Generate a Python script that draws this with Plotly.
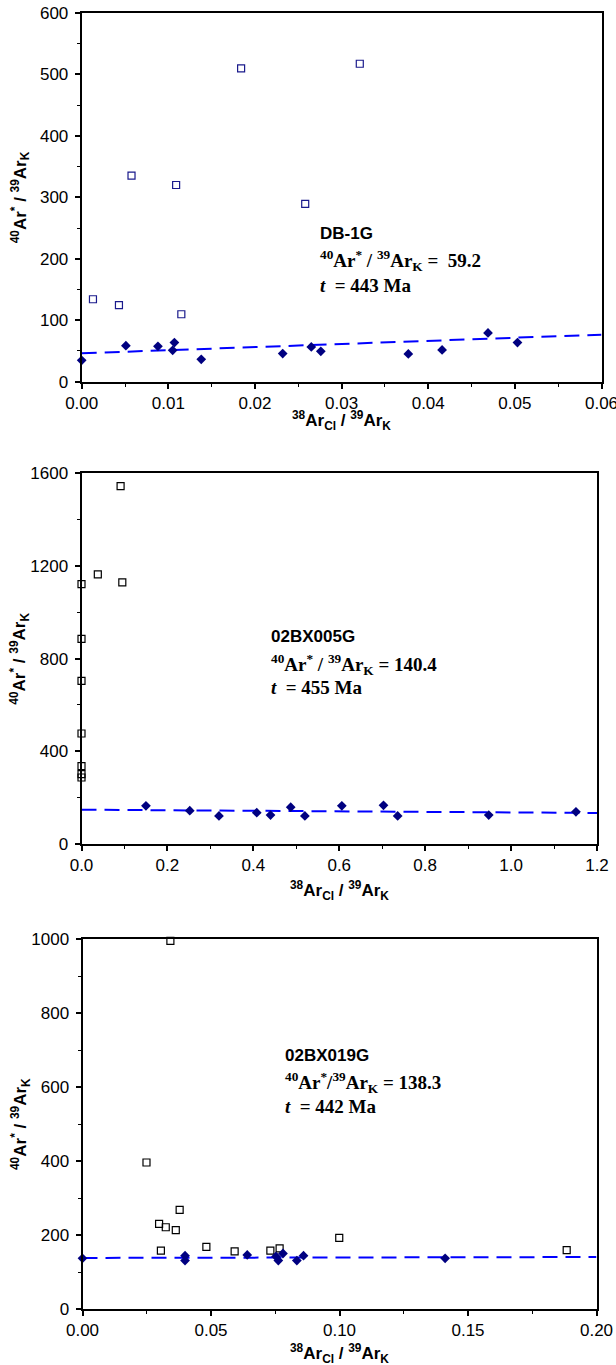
import plotly.graph_objects as go

W, H = 616, 1365

# ---------------- Data ----------------
# Panel 1: DB-1G
p1_fill_x = [0.0, 0.0051, 0.0088, 0.0107, 0.0105, 0.0138, 0.0232, 0.0265, 0.0276, 0.0377, 0.0416, 0.0469, 0.0503]
p1_fill_y = [34.8, 58.7, 57.6, 63.6, 51.1, 36.4, 45.7, 56.5, 49.5, 45.1, 51.6, 79.3, 63.6]
p1_open_x = [0.0013, 0.0043, 0.0115, 0.0258, 0.00575, 0.0109, 0.0184, 0.0321]
p1_open_y = [134.2, 124.5, 109.8, 289.5, 335.4, 320.1, 509.8, 517.4]
p1_fit_x = [0.0, 0.06]
p1_fit_y = [46.2, 76.6]
p1_xticks = [0.0, 0.01, 0.02, 0.03, 0.04, 0.05, 0.06]
p1_xticklabels = ["0.00", "0.01", "0.02", "0.03", "0.04", "0.05", "0.06"]
p1_yticks = [0, 100, 200, 300, 400, 500, 600]

# Panel 2: 02BX005G
p2_fill_x = [0.150, 0.252, 0.320, 0.408, 0.440, 0.487, 0.520, 0.606, 0.703, 0.736, 0.948, 1.151]
p2_fill_y = [165, 144, 121, 135, 125, 159, 121, 165, 167, 121, 125, 139]
p2_open_x = [0.0, 0.0, 0.0, 0.0, 0.0, 0.0, 0.0, 0.038, 0.091, 0.095]
p2_open_y = [704, 477, 336, 302, 287, 1122, 885, 1164, 1545, 1129]
p2_fit_x = [0.0, 1.2]
p2_fit_y = [148, 134]
p2_xticks = [0.0, 0.2, 0.4, 0.6, 0.8, 1.0, 1.2]
p2_xticklabels = ["0.0", "0.2", "0.4", "0.6", "0.8", "1.0", "1.2"]
p2_yticks = [0, 400, 800, 1200, 1600]

# Panel 3: 02BX019G
p3_fill_x = [0.0, 0.0399, 0.0399, 0.0641, 0.0753, 0.0762, 0.0780, 0.0834, 0.0860, 0.1411]
p3_fill_y = [137, 144, 131, 146, 142, 131, 150, 131, 144, 137]
p3_open_x = [0.0249, 0.0298, 0.0324, 0.0363, 0.0378, 0.0305, 0.0482, 0.0592, 0.0731, 0.0767, 0.0999, 0.1884, 0.0342]
p3_open_y = [396, 230, 221, 213, 268, 158, 168, 156, 158, 164, 192, 159, 995]
p3_fit_x = [0.0, 0.2]
p3_fit_y = [138, 140.5]
p3_xticks = [0.0, 0.05, 0.10, 0.15, 0.20]
p3_xticklabels = ["0.00", "0.05", "0.10", "0.15", "0.20"]
p3_yticks = [0, 200, 400, 600, 800, 1000]

names = ["DB-1G", "02BX005G", "02BX019G"]
ratio_text = [
    "<sup>40</sup>Ar<sup>*</sup> / <sup>39</sup>Ar<sub>K</sub> =  59.2",
    "<sup>40</sup>Ar<sup>*</sup> / <sup>39</sup>Ar<sub>K</sub> = 140.4",
    "<sup>40</sup>Ar<sup>*</sup>/<sup>39</sup>Ar<sub>K</sub> = 138.3",
]
ages = ["443", "455", "442"]

x_ranges = [[0, 0.06], [0, 1.2], [0, 0.2]]
x_minor = [0.005, 0.1, 0.025]
y_ranges = [[0, 600], [0, 1600], [0, 1000]]
y_minor = [50, 200, 100]

# ---------------- Layout geometry (pixels) ----------------
panels_px = [
    dict(x0=81.7, x1=601.5, y0=13, y1=381.7),
    dict(x0=81.5, x1=597.0, y0=473.3, y1=844),
    dict(x0=82.5, x1=596.5, y0=939, y1=1309),
]
label_px = [
    dict(x=317.5, y=[233.5, 260, 285], xt=420),
    dict(x=268.8, y=[636, 664, 687], xt=890),
    dict(x=283.0, y=[1055, 1082, 1106], xt=1353),
]

fill_color = "#000080"
open_colors = ["#1a1a8c", "#000000", "#000000"]
fit_color = "#0000FF"

data = [
    (p1_fill_x, p1_fill_y, p1_open_x, p1_open_y, p1_fit_x, p1_fit_y, p1_xticks, p1_xticklabels, p1_yticks),
    (p2_fill_x, p2_fill_y, p2_open_x, p2_open_y, p2_fit_x, p2_fit_y, p2_xticks, p2_xticklabels, p2_yticks),
    (p3_fill_x, p3_fill_y, p3_open_x, p3_open_y, p3_fit_x, p3_fit_y, p3_xticks, p3_xticklabels, p3_yticks),
]

fig = go.Figure()
annotations = []

tick_font = dict(family="Liberation Sans, Arial", size=17, color="#000")
ytitle = "<b><sup>40</sup>Ar<sup>*</sup> / <sup>39</sup>Ar<sub>K</sub></b>"
xtitle = "<b><sup>38</sup>Ar<sub>Cl</sub> / <sup>39</sup>Ar<sub>K</sub></b>"

for i in range(3):
    fx, fy, ox, oy, lx, ly, xt, xtl, yt = data[i]
    xa = "x" if i == 0 else f"x{i+1}"
    ya = "y" if i == 0 else f"y{i+1}"
    fig.add_trace(go.Scatter(x=lx, y=ly, mode="lines", xaxis=xa, yaxis=ya,
                             line=dict(color=fit_color, width=2, dash="15px,8px"),
                             showlegend=False, hoverinfo="skip", cliponaxis=True))
    fig.add_trace(go.Scatter(x=ox, y=oy, mode="markers", xaxis=xa, yaxis=ya,
                             marker=dict(symbol="square-open", size=7, color=open_colors[i],
                                         line=dict(width=1.2, color=open_colors[i])),
                             showlegend=False, cliponaxis=False))
    fig.add_trace(go.Scatter(x=fx, y=fy, mode="markers", xaxis=xa, yaxis=ya,
                             marker=dict(symbol="diamond", size=7.5, color=fill_color,
                                         line=dict(width=0)),
                             showlegend=False, cliponaxis=False))

    p = panels_px[i]
    xdom = [p["x0"] / W, p["x1"] / W]
    ydom = [1 - p["y1"] / H, 1 - p["y0"] / H]
    xkey = "xaxis" if i == 0 else f"xaxis{i+1}"
    ykey = "yaxis" if i == 0 else f"yaxis{i+1}"
    fig.update_layout(**{
        xkey: dict(domain=xdom, anchor=ya, range=x_ranges[i],
                   tickmode="array", tickvals=xt, ticktext=xtl,
                   showgrid=False, zeroline=False,
                   showline=True, linecolor="#000", linewidth=2, mirror=True,
                   ticks="outside", ticklen=5, tickwidth=1.5, tickcolor="#000",
                   minor=dict(ticks="outside", ticklen=3, tickwidth=1.2, tickcolor="#000",
                              tick0=0, dtick=x_minor[i], showgrid=False),
                   ticklabeloverflow="allow",
                   tickfont=tick_font, automargin=False, fixedrange=True),
        ykey: dict(domain=ydom, anchor=xa, range=y_ranges[i],
                   tickmode="array", tickvals=yt, ticktext=[str(v) for v in yt],
                   showgrid=False, zeroline=False,
                   showline=True, linecolor="#000", linewidth=2, mirror=True,
                   ticks="outside", ticklen=5, tickwidth=1.5, tickcolor="#000",
                   minor=dict(ticks="outside", ticklen=3, tickwidth=1.2, tickcolor="#000",
                              tick0=0, dtick=y_minor[i], showgrid=False),
                   ticklabelstandoff=3, ticklabeloverflow="allow",
                   tickfont=tick_font, automargin=False, fixedrange=True),
    })

    lp = label_px[i]
    annotations.append(dict(x=lp["x"] / W, y=1 - lp["y"][0] / H, xref="paper", yref="paper",
                            text=f"<b>{names[i]}</b>", showarrow=False,
                            xanchor="left", yanchor="middle",
                            font=dict(family="Liberation Sans, Arial", size=17, color="#000")))
    annotations.append(dict(x=lp["x"] / W, y=1 - lp["y"][1] / H, xref="paper", yref="paper",
                            text=f"<b>{ratio_text[i]}</b>", showarrow=False,
                            xanchor="left", yanchor="middle",
                            font=dict(family="Liberation Serif, Times New Roman", size=19, color="#000")))
    annotations.append(dict(x=lp["x"] / W, y=1 - lp["y"][2] / H, xref="paper", yref="paper",
                            text=f"<b><i>t</i>  = {ages[i]} Ma</b>", showarrow=False,
                            xanchor="left", yanchor="middle",
                            font=dict(family="Liberation Serif, Times New Roman", size=19, color="#000")))
    # axis titles
    annotations.append(dict(x=20 / W, y=1 - ((p["y0"] + p["y1"]) / 2) / H, xref="paper", yref="paper",
                            text=ytitle, showarrow=False, textangle=-90,
                            xanchor="center", yanchor="middle",
                            font=dict(family="Liberation Sans, Arial", size=17, color="#000")))
    annotations.append(dict(x=((p["x0"] + p["x1"]) / 2) / W, y=1 - lp["xt"] / H, xref="paper", yref="paper",
                            text=xtitle, showarrow=False,
                            xanchor="center", yanchor="middle",
                            font=dict(family="Liberation Sans, Arial", size=17, color="#000")))

fig.update_layout(
    width=W, height=H,
    margin=dict(l=0, r=0, t=0, b=0),
    paper_bgcolor="white", plot_bgcolor="white",
    template="none",
    annotations=annotations,
    showlegend=False,
)

fig.write_html("out.html",
               config={"displayModeBar": False},
               post_script="document.body.style.margin='0';document.body.style.padding='0';")
